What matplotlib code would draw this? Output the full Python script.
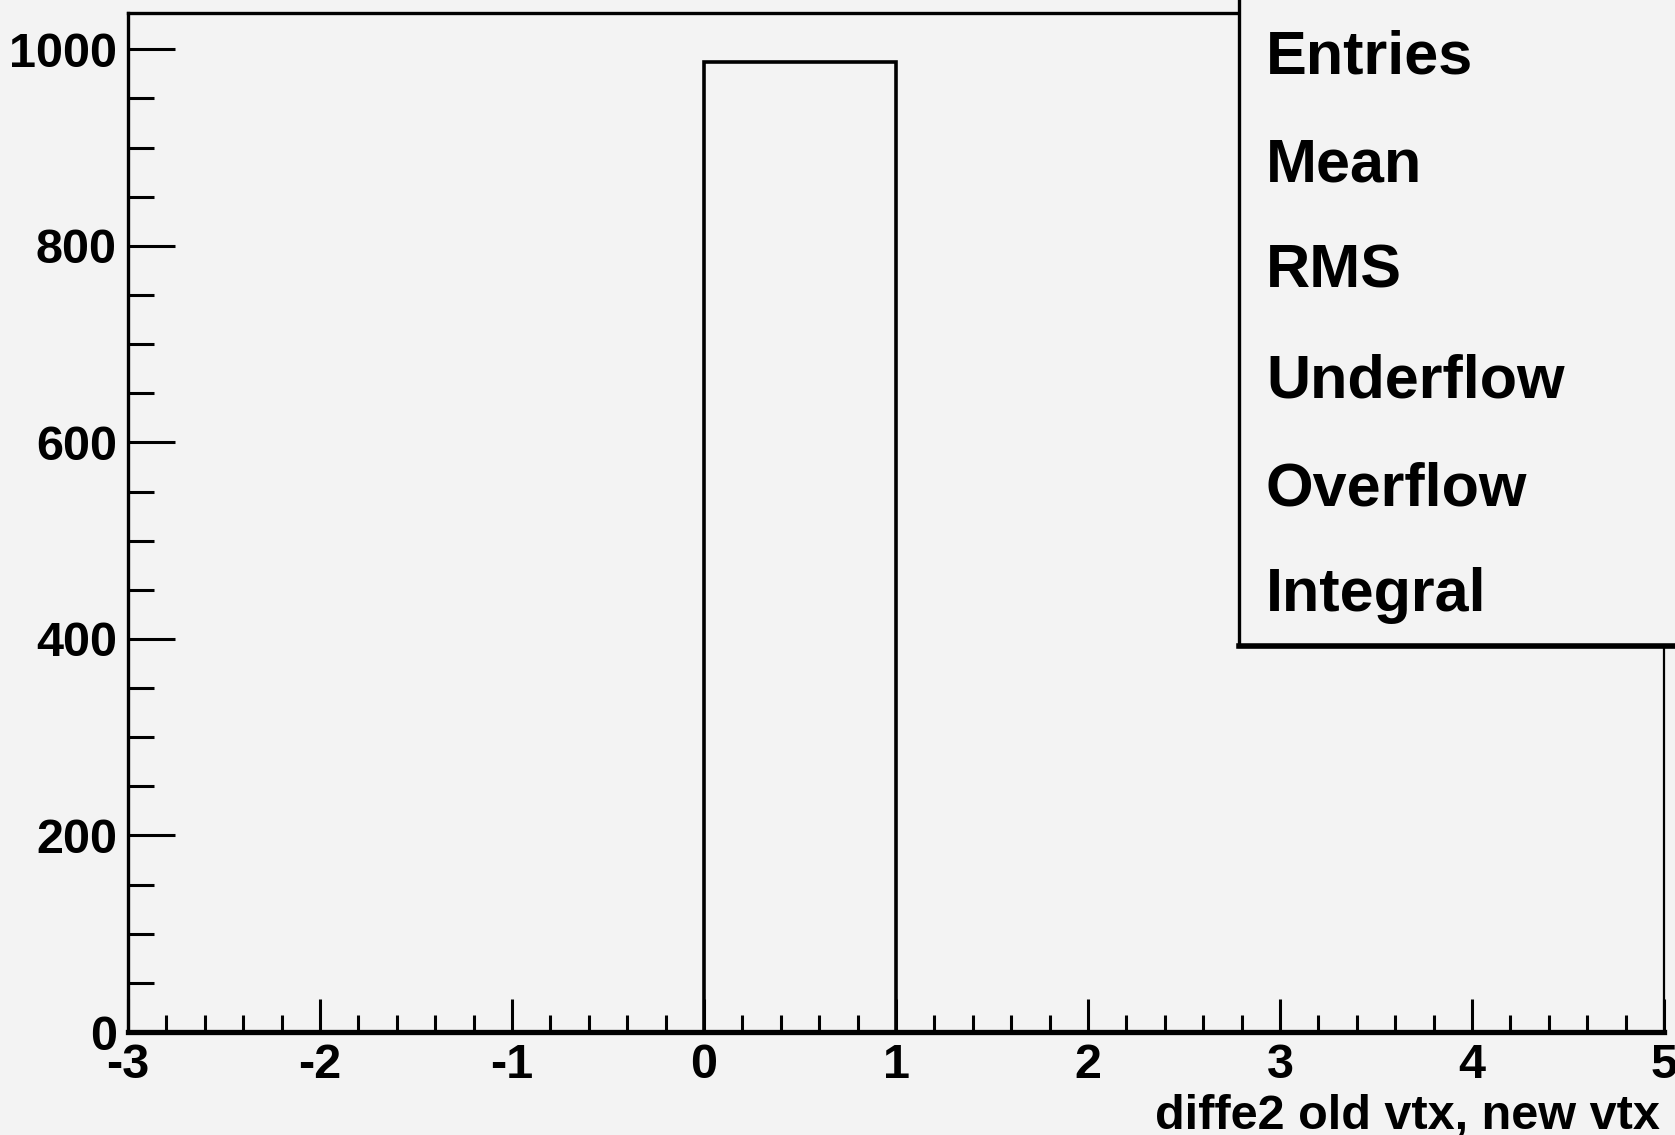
import numpy as np
import matplotlib.pyplot as plt
from matplotlib.patches import Rectangle
from matplotlib.ticker import MultipleLocator

# histogram contents: unit bins from -3 to 5
bin_edges = [-3, -2, -1, 0, 1, 2, 3, 4, 5]
counts = [0, 0, 0, 987, 0, 0, 0, 0]

x_ticks = [-3, -2, -1, 0, 1, 2, 3, 4, 5]
y_ticks = [0, 200, 400, 600, 800, 1000]
stat_names = ["Entries", "Mean", "RMS", "Underflow", "Overflow", "Integral"]
x_title = "diffe2 old vtx, new vtx"

bg = '#f3f3f3'
W, H = 1675, 1135
plt.rcParams['font.family'] = ['Liberation Sans', 'DejaVu Sans']
plt.rcParams['font.weight'] = 'bold'
plt.rcParams['axes.unicode_minus'] = False

fig = plt.figure(figsize=(W/100, H/100), dpi=100, facecolor=bg)
ax = fig.add_axes([128/W, 1-1032/H, (1664-128)/W, (1032-13)/H])
ax.set_facecolor(bg)

ax.stairs(counts, bin_edges, color='k', lw=2.6, baseline=0)

ax.set_xlim(-3, 5)
ax.set_ylim(0, 1037)
ax.set_xticks(x_ticks)
ax.set_yticks(y_ticks)
ax.xaxis.set_minor_locator(MultipleLocator(0.2))
ax.yaxis.set_minor_locator(MultipleLocator(50))

ax.spines['bottom'].set_linewidth(3.8)
ax.spines['left'].set_linewidth(2.4)
ax.spines['top'].set_linewidth(2.4)
ax.spines['right'].set_linewidth(1.6)

ax.tick_params(axis='x', which='major', direction='in', length=24, width=2.2, pad=8, labelsize=35)
ax.tick_params(axis='x', which='minor', direction='in', length=12, width=2.2)
ax.tick_params(axis='y', which='major', direction='in', length=34, width=2.2, pad=8, labelsize=35)
ax.tick_params(axis='y', which='minor', direction='in', length=19, width=2.2)
for lab in ax.get_xticklabels() + ax.get_yticklabels():
    lab.set_fontweight('bold')

# axis title, right aligned under the axis end
fig.text(1660/W, 1-1128/H, x_title, ha='right', va='baseline',
         fontsize=35, fontweight='bold')

# stats box, running off the top right corner
box = Rectangle((1239/W, 1-646/H), 0.5, 0.8, transform=fig.transFigure,
                facecolor=bg, edgecolor='k', lw=2.4, clip_on=False, zorder=5)
fig.add_artist(box)
fig.add_artist(plt.Line2D([1239/W, 1.0], [1-646/H, 1-646/H], transform=fig.transFigure,
                          color='k', lw=4, zorder=6))
baselines = [73, 182, 288, 398, 506, 611]
for name, yb in zip(stat_names, baselines):
    fig.text(1266/W, 1-yb/H, name, ha='left', va='baseline', fontsize=44,
             fontweight='bold', zorder=7)

fig.savefig('out.png', dpi=100, facecolor=bg)
